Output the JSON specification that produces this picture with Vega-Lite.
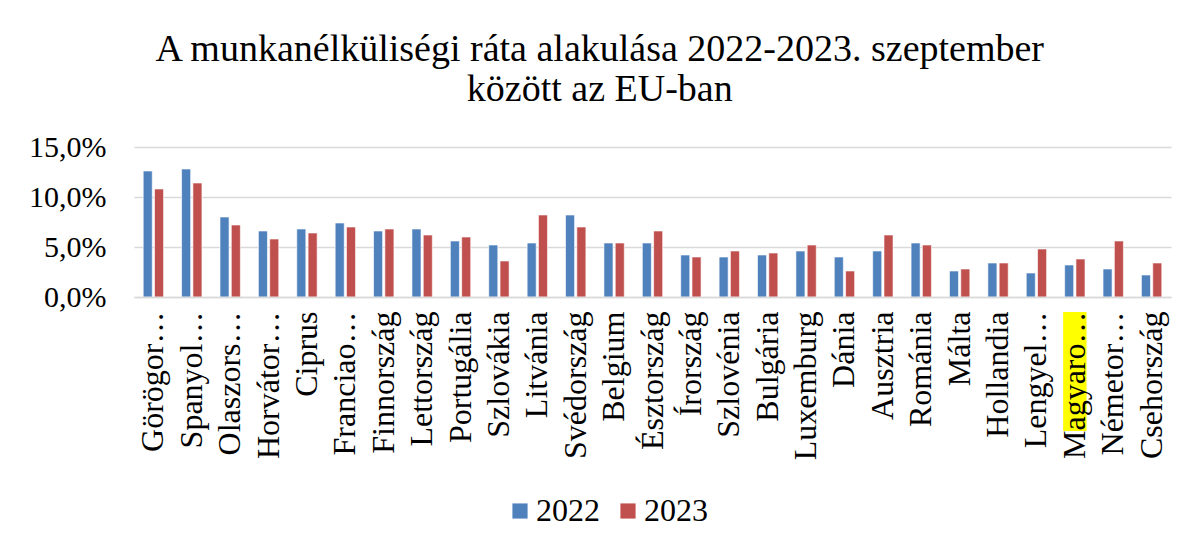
{
  "$schema": "https://vega.github.io/schema/vega-lite/v6.json",
  "width": 1037,
  "height": 150,
  "padding": {"left": 28, "top": 31, "right": 23, "bottom": 5},
  "background": "white",
  "title": {
    "text": ["A munkanélküliségi ráta alakulása 2022-2023. szeptember", "között az EU-ban"],
    "font": "Liberation Serif",
    "fontSize": 38,
    "fontWeight": "normal",
    "color": "#000000",
    "lineHeight": 40,
    "anchor": "middle",
    "frame": "bounds",
    "offset": 23
  },
  "data": {
    "values": [
      {"country": "Görögország", "year": "2022", "rate": 0.126},
      {"country": "Görögország", "year": "2023", "rate": 0.108},
      {"country": "Spanyolország", "year": "2022", "rate": 0.128},
      {"country": "Spanyolország", "year": "2023", "rate": 0.114},
      {"country": "Olaszország", "year": "2022", "rate": 0.080},
      {"country": "Olaszország", "year": "2023", "rate": 0.072},
      {"country": "Horvátország", "year": "2022", "rate": 0.066},
      {"country": "Horvátország", "year": "2023", "rate": 0.058},
      {"country": "Ciprus", "year": "2022", "rate": 0.068},
      {"country": "Ciprus", "year": "2023", "rate": 0.064},
      {"country": "Franciaország", "year": "2022", "rate": 0.074},
      {"country": "Franciaország", "year": "2023", "rate": 0.070},
      {"country": "Finnország", "year": "2022", "rate": 0.066},
      {"country": "Finnország", "year": "2023", "rate": 0.068},
      {"country": "Lettország", "year": "2022", "rate": 0.068},
      {"country": "Lettország", "year": "2023", "rate": 0.062},
      {"country": "Portugália", "year": "2022", "rate": 0.056},
      {"country": "Portugália", "year": "2023", "rate": 0.060},
      {"country": "Szlovákia", "year": "2022", "rate": 0.052},
      {"country": "Szlovákia", "year": "2023", "rate": 0.036},
      {"country": "Litvánia", "year": "2022", "rate": 0.054},
      {"country": "Litvánia", "year": "2023", "rate": 0.082},
      {"country": "Svédország", "year": "2022", "rate": 0.082},
      {"country": "Svédország", "year": "2023", "rate": 0.070},
      {"country": "Belgium", "year": "2022", "rate": 0.054},
      {"country": "Belgium", "year": "2023", "rate": 0.054},
      {"country": "Észtország", "year": "2022", "rate": 0.054},
      {"country": "Észtország", "year": "2023", "rate": 0.066},
      {"country": "Írország", "year": "2022", "rate": 0.042},
      {"country": "Írország", "year": "2023", "rate": 0.040},
      {"country": "Szlovénia", "year": "2022", "rate": 0.040},
      {"country": "Szlovénia", "year": "2023", "rate": 0.046},
      {"country": "Bulgária", "year": "2022", "rate": 0.042},
      {"country": "Bulgária", "year": "2023", "rate": 0.044},
      {"country": "Luxemburg", "year": "2022", "rate": 0.046},
      {"country": "Luxemburg", "year": "2023", "rate": 0.052},
      {"country": "Dánia", "year": "2022", "rate": 0.040},
      {"country": "Dánia", "year": "2023", "rate": 0.026},
      {"country": "Ausztria", "year": "2022", "rate": 0.046},
      {"country": "Ausztria", "year": "2023", "rate": 0.062},
      {"country": "Románia", "year": "2022", "rate": 0.054},
      {"country": "Románia", "year": "2023", "rate": 0.052},
      {"country": "Málta", "year": "2022", "rate": 0.026},
      {"country": "Málta", "year": "2023", "rate": 0.028},
      {"country": "Hollandia", "year": "2022", "rate": 0.034},
      {"country": "Hollandia", "year": "2023", "rate": 0.034},
      {"country": "Lengyelország", "year": "2022", "rate": 0.024},
      {"country": "Lengyelország", "year": "2023", "rate": 0.048},
      {"country": "Magyarország", "year": "2022", "rate": 0.032},
      {"country": "Magyarország", "year": "2023", "rate": 0.038},
      {"country": "Németország", "year": "2022", "rate": 0.028},
      {"country": "Németország", "year": "2023", "rate": 0.056},
      {"country": "Csehország", "year": "2022", "rate": 0.022},
      {"country": "Csehország", "year": "2023", "rate": 0.034}
    ]
  },
  "encoding": {
    "x": {
      "field": "country",
      "type": "nominal",
      "sort": null,
      "scale": {"paddingInner": 0.47, "paddingOuter": 0.24},
      "axis": {
        "title": null,
        "labelAngle": -90,
        "labelFont": "Liberation Serif",
        "labelFontSize": 32,
        "labelColor": "#000000",
        "labelPadding": 14,
        "labelLimit": 300,
        "ticks": false,
        "domainColor": "#d9d9d9",
        "domainWidth": 1.5,
        "zindex": 1,
        "labelExpr": "{'Görögország':'Görögor…','Spanyolország':'Spanyol…','Olaszország':'Olaszors…','Horvátország':'Horvátor…','Franciaország':'Franciao…','Lengyelország':'Lengyel…','Magyarország':'Magyaro…','Németország':'Németor…'}[datum.value] || datum.value"
      }
    }
  },
  "layer": [
    {
      "mark": {"type": "bar", "stroke": "#ffffff", "strokeWidth": 1, "strokeOpacity": 0.6},
      "encoding": {
        "xOffset": {"field": "year", "type": "nominal", "scale": {"paddingInner": 0.2}},
        "y": {
          "field": "rate",
          "type": "quantitative",
          "scale": {"domain": [0, 0.15], "nice": false, "zero": false},
          "axis": {
            "title": null,
            "values": [0, 0.05, 0.1, 0.15],
            "labelExpr": "replace(format(datum.value, '.1%'), '.', ',')",
            "labelFont": "Liberation Serif",
            "labelFontSize": 30,
            "labelColor": "#000000",
            "labelPadding": 28,
            "domain": false,
            "ticks": false,
            "gridColor": "#d9d9d9",
            "gridWidth": 1.5
          }
        },
        "color": {
          "field": "year",
          "type": "nominal",
          "scale": {"domain": ["2022", "2023"], "range": ["#4F81BD", "#C0504D"]},
          "legend": {
            "title": null,
            "orient": "none",
            "legendX": 370,
            "legendY": 348,
            "direction": "horizontal",
            "symbolType": "square",
            "symbolSize": 230,
            "symbolStrokeWidth": 0,
            "labelFont": "Liberation Serif",
            "labelFontSize": 32,
            "labelColor": "#000000",
            "columnPadding": 12,
            "labelOffset": 0,
            "labelLimit": 200
          }
        }
      }
    },
    {
      "transform": [{"filter": "datum.country === 'Magyarország' && datum.year === '2022'"}],
      "mark": {"type": "bar", "color": "#ffff00", "width": {"band": 1.15}},
      "encoding": {
        "y": {"datum": -0.015, "type": "quantitative", "scale": {"domain": [0, 0.15], "nice": false, "zero": false}},
        "y2": {"datum": -0.134}
      }
    }
  ],
  "config": {
    "font": "Liberation Serif",
    "view": {"stroke": null},
    "legend": {"labelFont": "Liberation Serif", "labelColor": "#000000"}
  }
}
